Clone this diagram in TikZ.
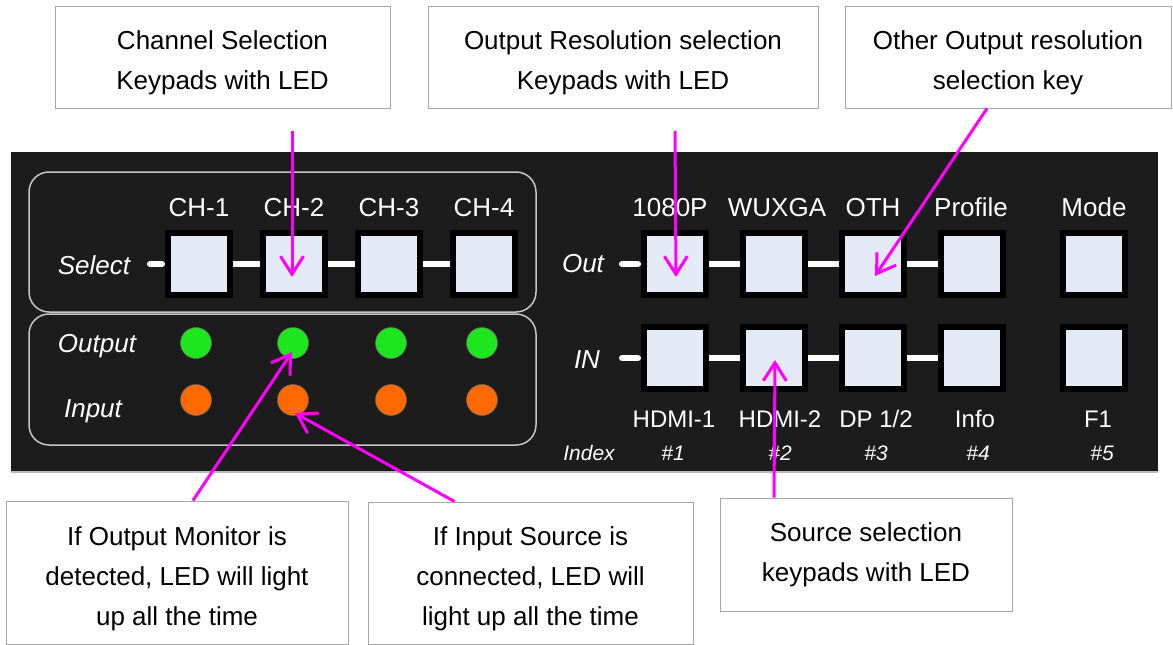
\documentclass[tikz,border=0pt]{standalone}
\usepackage{fontspec}
\setmainfont{Liberation Sans}
\usetikzlibrary{arrows.meta,positioning,calc}
\definecolor{panelbg}{HTML}{1C1C1C}
\definecolor{keyface}{HTML}{E4EAF5}
\definecolor{ledgreen}{HTML}{1EE61E}
\definecolor{ledorange}{HTML}{FF6A00}
\definecolor{pointer}{HTML}{FF00FF}
\definecolor{calloutline}{HTML}{A6A6A6}
\newcommand{\firstline}{\rule{0pt}{31pt}}

\begin{document}
\begin{tikzpicture}[x=1pt,y=-1pt,node distance=27pt,
  key/.style={draw=black,fill=keyface,line width=6pt,minimum size=62pt,inner sep=0pt},
  led/.style={circle,minimum size=31pt,inner sep=0pt,draw=black!60,line width=0.6pt},
  wire/.style={white,line width=6pt},
  keylbl/.style={text=white,anchor=base,font=\fontsize{26}{30}\selectfont},
  sublbl/.style={text=white,anchor=base,font=\fontsize{24}{28}\selectfont},
  rowlbl/.style={text=white,anchor=base,font=\fontsize{26}{30}\selectfont\itshape},
  idxlbl/.style={text=white,anchor=base,font=\fontsize{21}{24}\selectfont\itshape},
  callout/.style={draw=calloutline,fill=white,line width=1pt,align=center,inner sep=0pt,font=\fontsize{26}{40}\selectfont}]
\useasboundingbox (0,0) rectangle (1173,645);

\fill[panelbg] (11,152) rectangle (1158,472);
\draw[gray!55,line width=1.5pt] (11,472) -- (1158,472);
\draw[gray!45,line width=1.5pt,rounded corners=20pt] (29,172) rectangle (536,312);
\draw[gray!45,line width=1.5pt,rounded corners=20pt] (29,314) rectangle (536,445);

\node[key] (selk1) at (199,264) {};
\node[key] (selk2) [right=of selk1] {};
\node[key] (selk3) [right=of selk2] {};
\node[key] (selk4) [right=of selk3] {};

\node[key] (outk1) at (675,264) {};
\node[key] (outk2) [right=31pt of outk1] {};
\node[key] (outk3) [right=31pt of outk2] {};
\node[key] (outk4) [right=31pt of outk3] {};
\node[key] (outk5) [right=54pt of outk4] {};

\node[key] (ink1) [below=26pt of outk1] {};
\node[key] (ink2) [right=31pt of ink1] {};
\node[key] (ink3) [right=31pt of ink2] {};
\node[key] (ink4) [right=31pt of ink3] {};
\node[key] (ink5) [right=54pt of ink4] {};

\coordinate (selstub) at (150,264);
\coordinate (outstub) at (622,264);
\coordinate (instub) at (622,358);
\draw[wire,line cap=round,shorten >=3pt] (selstub) -- (selk1.west);
\draw[wire,line cap=round,shorten >=3pt] (outstub) -- (outk1.west);
\draw[wire,line cap=round,shorten >=3pt] (instub) -- (ink1.west);
\foreach \a/\b in {1/2,2/3,3/4} {
  \draw[wire] (selk\a.east) -- (selk\b.west);
  \draw[wire] (outk\a.east) -- (outk\b.west);
  \draw[wire] (ink\a.east) -- (ink\b.west);
}

\foreach \i/\t in {1/CH-1,2/CH-2,3/CH-3,4/CH-4}
  \node[keylbl] (chlbl\i) at (selk\i |- 0,216) {\t};
\foreach \i/\t/\dx in {1/1080P/-5,2/WUXGA/3,3/OTH/0,4/Profile/-1,5/Mode/0}
  \node[keylbl] (outlbl\i) at ([xshift=\dx pt]outk\i |- 0,216) {\t};
\foreach \i/\t/\dx in {1/HDMI-1/-1,2/HDMI-2/6,3/{DP 1/2}/3,4/Info/3,5/F1/4}
  \node[sublbl] (inlbl\i) at ([xshift=\dx pt]ink\i |- 0,427) {\t};
\foreach \i/\dx in {1/-2,2/6,3/3,4/6,5/8}
  \node[idxlbl] (idx\i) at ([xshift=\dx pt]ink\i |- 0,460) {\#\i};

\foreach \i/\dx in {1/-3,2/-1,3/2,4/-2} {
  \node[led,fill=ledgreen] (ledo\i) at ([xshift=\dx pt]selk\i |- 0,343) {};
  \node[led,fill=ledorange] (ledi\i) at ([xshift=\dx pt]selk\i |- 0,400) {};
}

\node[rowlbl] (selname) at (94,274) {Select};
\node[rowlbl] (outputname) at (97,352) {Output};
\node[rowlbl] (inputname) at (93,417) {Input};
\node[rowlbl] (outname) at (583,272) {Out};
\node[rowlbl] (inname) at (587,368) {IN};
\node[idxlbl] (idxname) at (589,460) {Index};

\node[callout,minimum width=335pt,minimum height=102pt] (chansel) at (222.5,57) {\firstline Channel Selection\\Keypads with LED};
\node[callout,minimum width=390pt,minimum height=102pt] (outres) at (623,57) {\firstline Output Resolution selection\\Keypads with LED};
\node[callout,minimum width=326pt,minimum height=102pt] (othres) at (1008,57) {\firstline Other Output resolution\\selection key};
\node[callout,minimum width=342pt,minimum height=143pt] (outmon) at (177,572.5) {\firstline If Output Monitor is\\detected, LED will light\\up all the time};
\node[callout,minimum width=325pt,minimum height=142pt] (insrc) at (530.5,573) {\firstline If Input Source is\\connected, LED will\\light up all the time};
\node[callout,minimum width=292pt,minimum height=113pt] (srcsel) at (866,554.5) {Source selection\\keypads with LED};

\tikzset{pink/.style={draw=pointer,line width=3pt,-{Straight Barb[length=18pt,width=23pt]}}}
\coordinate (chanptr) at (292,131);
\coordinate (resptr) at (675,131);
\draw[pink] (chanptr) -- ($(selk2)+(-2,13)$);
\draw[pink] (resptr) -- ($(outk1)+(1,13)$);
\draw[pink] ([xshift=-21pt]othres.south) -- ($(outk3)+(2,12)$);
\draw[pink] ([xshift=16pt]outmon.north) -- ($(ledo2)+(-1,9)$);
\draw[pink] ([xshift=-76pt]insrc.north) -- ($(ledi2)+(2,13)$);
\draw[pink] ([xshift=-92pt]srcsel.north) -- ($(ink2)+(1,2)$);
\end{tikzpicture}
\end{document}
